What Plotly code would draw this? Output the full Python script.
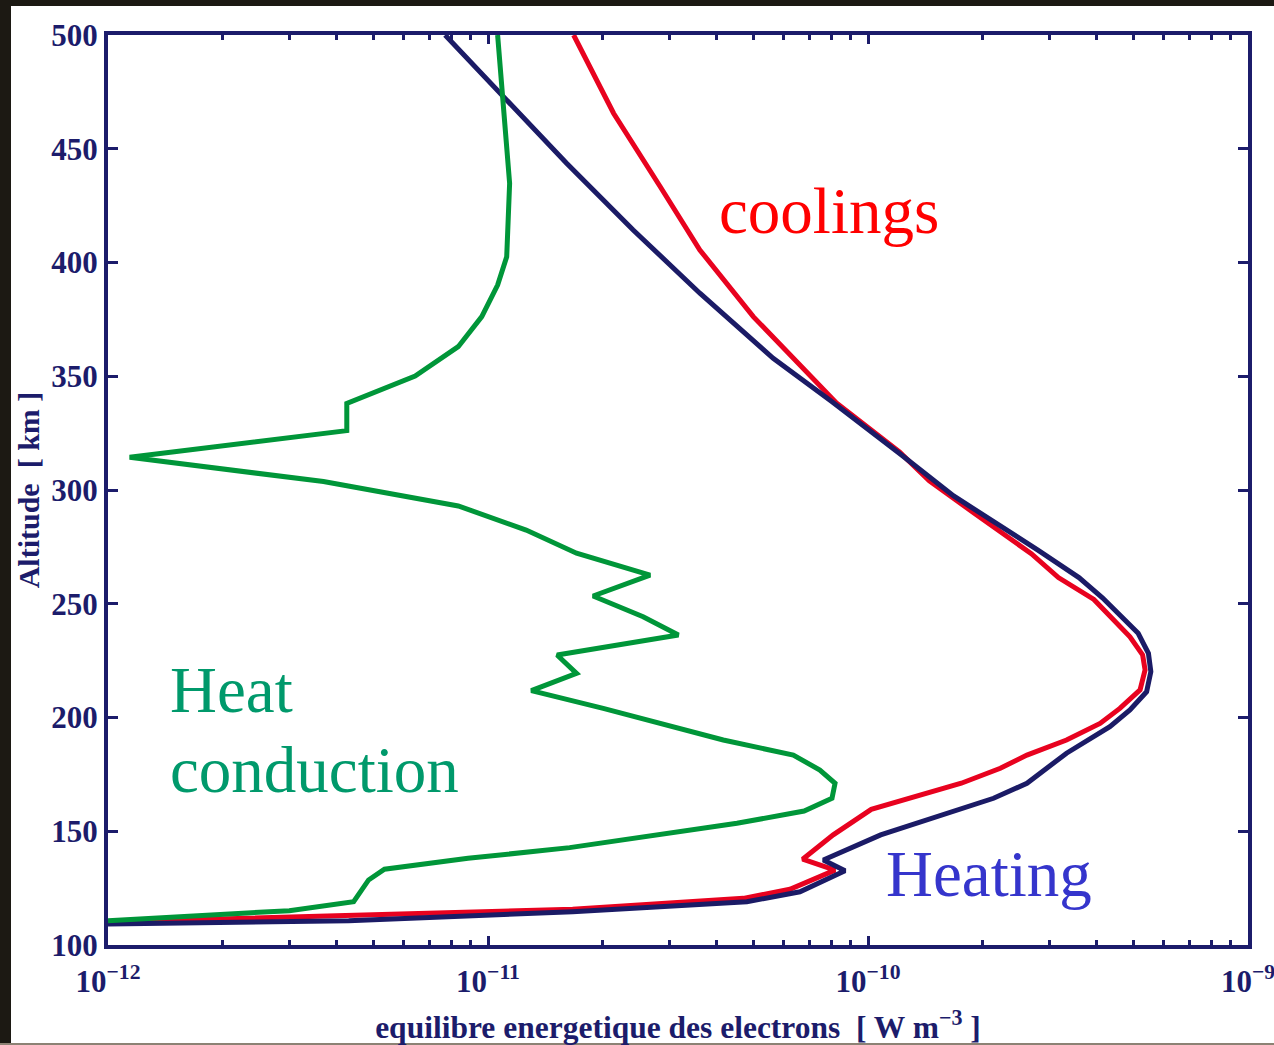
import plotly.graph_objects as go

# Electron energy balance terms versus altitude (km), in W m^-3
conduction_alt = [500, 474.4, 450.9, 434.8, 418.7, 402.5, 390.1, 376.2, 363.0, 350.1,
                  338.1, 326.1, 314.4, 303.7, 293.0, 282.4, 272.2, 262.6, 253.4, 244.3,
                  236.3, 227.5, 219.4, 211.8, 204.0, 190.1, 183.5, 176.9, 171.1, 164.5,
                  158.9, 153.5, 142.8, 138.1, 133.3, 128.6, 119.0, 115.1, 110.7]
conduction_val = [1.06e-11, 1.09e-11, 1.12e-11, 1.14e-11, 1.13e-11, 1.12e-11, 1.06e-11, 9.63e-12, 8.35e-12, 6.43e-12,
                  4.25e-12, 4.25e-12, 1.14e-12, 3.69e-12, 8.35e-12, 1.26e-11, 1.71e-11, 2.67e-11, 1.89e-11, 2.56e-11,
                  3.17e-11, 1.52e-11, 1.71e-11, 1.30e-11, 2.01e-11, 4.16e-11, 6.36e-11, 7.47e-11, 8.19e-11, 8.04e-11,
                  6.79e-11, 4.52e-11, 1.64e-11, 8.86e-12, 5.34e-12, 4.85e-12, 4.43e-12, 3.0e-12, 1.0e-12]

cooling_alt = [500, 465.6, 433.3, 405.5, 376.2, 351.0, 338.3, 316.7, 304.0, 289.9,
               272.0, 261.5, 251.9, 235.5, 227.5, 220.9, 212.1, 204.0, 197.4, 190.1,
               183.5, 177.7, 171.1, 159.6, 148.4, 137.7, 132.9, 124.5, 120.5, 115.7, 110.1]
cooling_val = [1.68e-11, 2.14e-11, 2.84e-11, 3.61e-11, 4.99e-11, 6.94e-11, 8.26e-11, 1.21e-10, 1.45e-10, 1.90e-10,
               2.69e-10, 3.17e-10, 3.93e-10, 4.89e-10, 5.28e-10, 5.36e-10, 5.20e-10, 4.60e-10, 4.08e-10, 3.33e-10,
               2.62e-10, 2.23e-10, 1.76e-10, 1.02e-10, 8.10e-11, 6.73e-11, 8.19e-11, 6.23e-11, 4.70e-11, 1.67e-11, 1.0e-12]

heating_alt = [500, 474.4, 443.6, 414.3, 386.5, 357.9, 339.0, 315.2, 297.4, 273.6,
               261.5, 252.6, 237.0, 228.2, 220.1, 211.3, 203.3, 196.0, 184.3, 171.1,
               164.5, 148.4, 137.4, 132.6, 123.4, 119.0, 114.6, 110.7, 109.2]
heating_val = [7.71e-12, 1.08e-11, 1.61e-11, 2.41e-11, 3.61e-11, 5.63e-11, 8.01e-11, 1.23e-10, 1.68e-10, 2.80e-10,
               3.59e-10, 4.14e-10, 5.14e-10, 5.47e-10, 5.55e-10, 5.41e-10, 4.89e-10, 4.33e-10, 3.33e-10, 2.62e-10,
               2.14e-10, 1.08e-10, 7.63e-11, 8.70e-11, 6.62e-11, 4.80e-11, 1.67e-11, 4.30e-12, 1.0e-12]

x_tick_vals = [1e-12, 1e-11, 1e-10, 1e-9]
x_tick_text = ["10<sup>\u221212</sup>", "10<sup>\u221211</sup>", "10<sup>\u221210</sup>", "10<sup>\u22129</sup>"]
y_tick_vals = [100, 150, 200, 250, 300, 350, 400, 450, 500]

NAVY = "#1c1c6b"
SERIF = "Liberation Serif"

fig = go.Figure()
fig.add_trace(go.Scatter(x=cooling_val, y=cooling_alt, mode="lines",
                         line=dict(color="#e8021f", width=5), name="coolings"))
fig.add_trace(go.Scatter(x=heating_val, y=heating_alt, mode="lines",
                         line=dict(color="#1b1b66", width=5), name="Heating"))
fig.add_trace(go.Scatter(x=conduction_val, y=conduction_alt, mode="lines",
                         line=dict(color="#009639", width=5), name="Heat conduction"))

# minor ticks at 2..9 within each decade
minor_vals = [m * 10.0 ** e for e in range(-12, -9) for m in range(2, 10)]

fig.update_xaxes(
    type="log", range=[-12, -9], showgrid=False, zeroline=False,
    showline=True, linewidth=4, linecolor=NAVY, mirror="ticks",
    ticks="inside", ticklen=9, tickwidth=3, tickcolor=NAVY,
    tickmode="array", tickvals=x_tick_vals, ticktext=x_tick_text,
    ticklabelstandoff=6, ticklabeloverflow="allow",
    tickfont=dict(family=SERIF, size=31, color=NAVY, weight="bold"),
    minor=dict(tickmode="array", tickvals=minor_vals, ticks="inside",
               ticklen=5, tickwidth=3, tickcolor=NAVY, showgrid=False),
    title=dict(text="equilibre energetique des electrons \u00a0[ W m<sup>\u22123</sup> ]",
               font=dict(family=SERIF, size=31.5, color=NAVY, weight="bold"), standoff=19),
    automargin=False,
)
fig.update_yaxes(
    range=[100, 500], showgrid=False, zeroline=False,
    showline=True, linewidth=4, linecolor=NAVY, mirror="ticks",
    ticks="inside", ticklen=10, tickwidth=3, tickcolor=NAVY,
    tickmode="array", tickvals=y_tick_vals, ticklabeloverflow="allow",
    tickfont=dict(family=SERIF, size=31, color=NAVY, weight="bold"),
    title=dict(text="Altitude \u00a0[ km ]",
               font=dict(family=SERIF, size=30, color=NAVY, weight="bold"), standoff=4),
    automargin=False,
)

fig.add_annotation(text="coolings", xref="paper", yref="paper", x=0.6325, y=0.807,
                   xanchor="center", yanchor="middle", showarrow=False,
                   font=dict(family=SERIF, size=65, color="#ff0000"))
fig.add_annotation(text="Heat", xref="paper", yref="paper", x=0.0526, y=0.280,
                   xanchor="left", yanchor="middle", showarrow=False,
                   font=dict(family=SERIF, size=65, color="#00996b"))
fig.add_annotation(text="conduction", xref="paper", yref="paper", x=0.0526, y=0.192,
                   xanchor="left", yanchor="middle", showarrow=False,
                   font=dict(family=SERIF, size=65, color="#00996b"))
fig.add_annotation(text="Heating", xref="paper", yref="paper", x=0.7724, y=0.078,
                   xanchor="center", yanchor="middle", showarrow=False,
                   font=dict(family=SERIF, size=65, color="#3535cc"))

# dark frame strips along the left, top and bottom edges of the page
W, H, L, T = 1140.0, 910.0, 108.0, 35.0
def px_x(p):
    return (p - L) / W
def px_y(p):
    return (T + H - p) / H
fig.add_shape(type="rect", xref="paper", yref="paper", x0=px_x(0), x1=px_x(11),
              y0=px_y(1045), y1=px_y(0), fillcolor="#1c1913", line_width=0, layer="above")
fig.add_shape(type="rect", xref="paper", yref="paper", x0=px_x(0), x1=px_x(1274),
              y0=px_y(6), y1=px_y(0), fillcolor="#1c1913", line_width=0, layer="above")
fig.add_shape(type="rect", xref="paper", yref="paper", x0=px_x(0), x1=px_x(1274),
              y0=px_y(1045), y1=px_y(1043), fillcolor="#8c8274", line_width=0, layer="above")

fig.update_layout(
    width=1274, height=1045, autosize=False,
    margin=dict(l=108, r=26, t=35, b=100, pad=0),
    paper_bgcolor="white", plot_bgcolor="white",
    showlegend=False,
)

fig.write_html("out.html")
